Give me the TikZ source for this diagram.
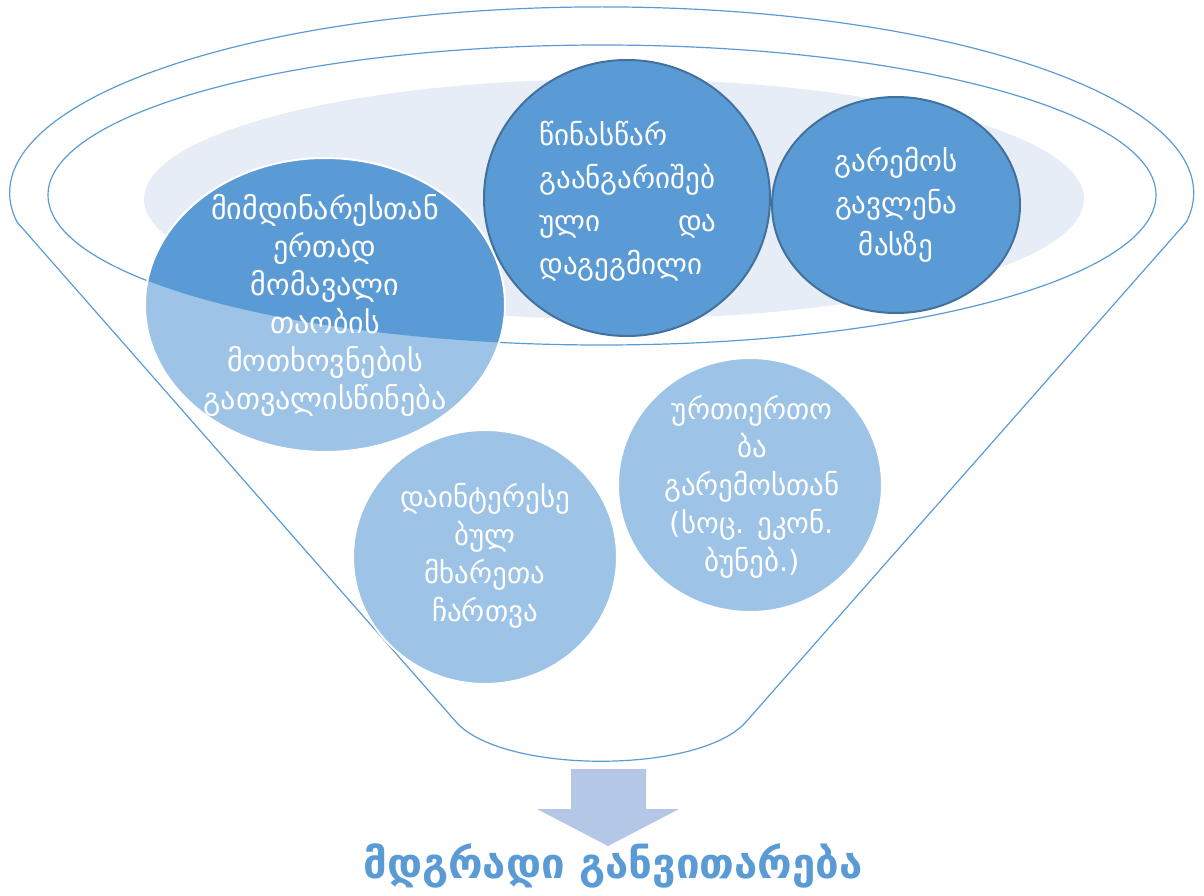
\documentclass[tikz,border=0pt]{standalone}
\usepackage{fontspec}
\setmainfont{DejaVu Sans}
\definecolor{dblue}{HTML}{5B9BD5}
\definecolor{lblue}{HTML}{9DC3E6}
\definecolor{rimblue}{HTML}{41719C}
\definecolor{pale}{HTML}{E7EDF7}
\definecolor{arrowblue}{HTML}{B4C7E7}
\begin{document}
\begin{tikzpicture}[x=1pt,y=-1pt,
    funnel/.style={draw=dblue,line width=1.2pt},
    bubbletext/.style={text=white,align=center,font=\fontsize{29}{38}\selectfont},
    lightbubble/.style={fill=lblue,draw=white,line width=2pt},
    darkbubble/.style={fill=dblue,draw=rimblue,line width=2pt}]

    \useasboundingbox (0,0) rectangle (1204,896);

    % inner surface
    \fill[pale] (614,199) ellipse [x radius=470, y radius=120];
    \draw[funnel] (602,195) ellipse [x radius=554, y radius=150];
    \draw[funnel] (17,222) arc [start angle=171, end angle=369, x radius=592, y radius=186]
        -- (745,723) .. controls (697,774) and (505,774) .. (457,723) -- cycle;

    % circles
    \fill[lblue] (325,305) ellipse [x radius=180, y radius=147];
    \begin{scope}
        \clip (602,195) ellipse [x radius=554, y radius=150];
        \fill[dblue] (325,305) ellipse [x radius=180, y radius=147];
    \end{scope}
    \draw[white,line width=2pt] (325,305) ellipse [x radius=180, y radius=147];
    \filldraw[darkbubble] (627,198) ellipse [x radius=143, y radius=138];
    \filldraw[darkbubble] (896,205) ellipse [x radius=124, y radius=108];
    \filldraw[lightbubble] (485,557) ellipse [x radius=132, y radius=127];
    \filldraw[lightbubble] (750,485) ellipse [x radius=132, y radius=127];

    % texts
    \node[bubbletext,font=\fontsize{30}{38}\selectfont] (now) at (325,305) {მიმდინარესთან\\ერთად\\მომავალი\\თაობის\\მოთხოვნების\\გათვალისწინება};
    \node[bubbletext,align=left,text width=177pt,font=\fontsize{29}{43}\selectfont] (plan) at (628,201)
        {წინასწარ\\გაანგარიშებ\\ული\hfill და\\დაგეგმილი};
    \node[bubbletext,font=\fontsize{29}{42}\selectfont] (impact) at (896,205) {გარემოს\\გავლენა\\მასზე};
    \node[bubbletext] (parties) at (485,556) {დაინტერესე\\ბულ\\მხარეთა\\ჩართვა};
    \node[bubbletext] (links) at (752,487) {ურთიერთო\\ბა\\გარემოსთან\\(სოც. ეკონ.\\ბუნებ.)};

    % arrow and result
    \fill[arrowblue] (571,769) -- (646,769) -- (646,809) -- (679,809) -- (608,846)
        -- (537,809) -- (571,809) -- cycle;
    \node[text=dblue,font=\fontsize{42}{46}\selectfont\bfseries] (goal) at (613,866) {მდგრადი განვითარება};

\end{tikzpicture}
\end{document}
